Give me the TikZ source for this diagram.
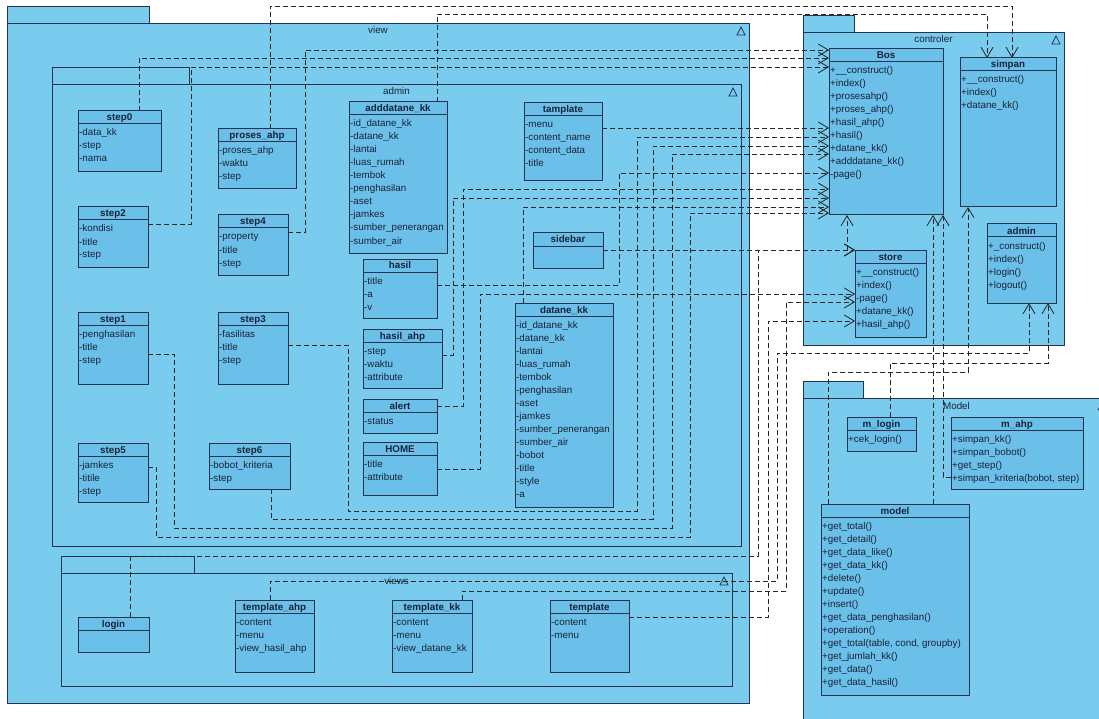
\documentclass[tikz,border=0pt]{standalone}
\usepackage{fontspec}
\setmainfont{Liberation Sans}
\usepackage{tikz}
\usetikzlibrary{arrows.meta, positioning, calc}
\definecolor{pkgblue}{RGB}{121,204,238}
\definecolor{clsblue}{RGB}{106,192,233}
\definecolor{umlline}{RGB}{38,50,80}
\definecolor{umltext}{RGB}{26,34,56}

% package: id, tab corner, tab width, body width, body height, label
\newcommand{\umlpkg}[6]{%
  \node[pkgbox, minimum width=#3pt, minimum height=17pt] (#1-tab) at (#2) {};
  \node[pkgbox, minimum width=#4pt, minimum height=#5pt] (#1) at (#1-tab.south west) {};
  \node[pkgname] (#1-name) at ([yshift=-11pt]#1.north) {#6};
  \draw[pkgmark] ([xshift=-8pt,yshift=-4pt]#1.north east) -- ++(4pt,-8pt) -- ++(-8pt,0pt) -- cycle;
}
% class: id, corner, width, height, name, rows
\newcommand{\umlclass}[6]{%
  \node[clsbox, minimum width=#3pt, minimum height=#4pt] (#1) at (#2) {};
  \node[clsname] (#1-name) at ([yshift=-10pt]#1.north) {#5};
  \draw[clsline] ([yshift=-13pt]#1.north west) -- ([yshift=-13pt]#1.north east);
  \foreach \rowtxt [count=\i] in {#6}
    \node[clsrow] (#1-\i) at ([xshift=1pt, yshift={-12pt-13pt*\i}]#1.north west) {\rowtxt};
}

\begin{document}
\begin{tikzpicture}[x=1pt, y=-1pt,
    font=\fontsize{9.8}{13}\selectfont,
    pkgbox/.style={rectangle, draw=umlline, fill=pkgblue, line width=0.9pt,
                   inner sep=0pt, outer sep=0pt, anchor=north west},
    pkgname/.style={anchor=base, inner sep=0pt, text=umltext},
    pkgmark/.style={draw=umlline, line width=0.7pt},
    clsbox/.style={rectangle, draw=umlline, fill=clsblue, line width=1pt,
                   inner sep=0pt, outer sep=0pt, anchor=north west},
    clsline/.style={draw=umlline, line width=1pt},
    clsname/.style={anchor=base, inner sep=0pt, text=umltext,
                    font=\fontsize{9.8}{13}\selectfont\bfseries},
    clsrow/.style={anchor=base west, inner sep=0pt, text=umltext},
    dep/.style={draw=black!85, line width=0.7pt, dash pattern=on 5pt off 3pt,
                -{Straight Barb[length=10pt, width=12pt, line width=0.8pt]}}
  ]
  \useasboundingbox (0,0) rectangle (1099,719);

  % packages
  \umlpkg{view}{7,6}{142}{742}{680}{view}
  \umlpkg{admin}{52,67}{137}{689}{462}{admin}
  \umlpkg{views}{61,556}{133}{671}{113}{views}
  \umlpkg{ctrl}{803,15}{51}{261}{313}{controler}
  \umlpkg{mdl}{803,381}{60}{307}{340}{Model}

  % view / admin
  \umlclass{step0}{78,111}{83}{61}{step0}{-data\_kk, -step, -nama}
  \umlclass{proses}{218,129}{78}{60}{proses\_ahp}{-proses\_ahp, -waktu, -step}
  \umlclass{step2}{78,207}{70}{60}{step2}{-kondisi, -title, -step}
  \umlclass{step4}{218,215}{70}{60}{step4}{-property, -title, -step}
  \umlclass{addkk}{349,102}{98}{151}{adddatane\_kk}{-id\_datane\_kk, -datane\_kk, -lantai,
    -luas\_rumah, -tembok, -penghasilan, -aset, -jamkes, -sumber\_penerangan, -sumber\_air}
  \umlclass{tamplate}{524,103}{78}{78}{tamplate}{-menu, -content\_name, -content\_data, -title}
  \umlclass{sidebar}{533,233}{70}{35}{sidebar}{}
  \umlclass{hasil}{363,259}{74}{59}{hasil}{-title, -a, -v}
  \umlclass{hasilahp}{363,329}{79}{59}{hasil\_ahp}{-step, -waktu, -attribute}
  \umlclass{alert}{363,399}{74}{34}{alert}{-status}
  \umlclass{home}{363,442}{74}{53}{HOME}{-title, -attribute}
  \umlclass{datanekk}{515,303}{98}{204}{datane\_kk}{-id\_datane\_kk, -datane\_kk, -lantai,
    -luas\_rumah, -tembok, -penghasilan, -aset, -jamkes, -sumber\_penerangan, -sumber\_air,
    -bobot, -title, -style, -a}
  \umlclass{step1}{78,312}{70}{72}{step1}{-penghasilan, -title, -step}
  \umlclass{step3}{218,312}{70}{72}{step3}{-fasilitas, -title, -step}
  \umlclass{step5}{78,443}{70}{59}{step5}{-jamkes, -titile, -step}
  \umlclass{step6}{209,443}{81}{46}{step6}{-bobot\_kriteria, -step}

  % views
  \umlclass{login}{78,617}{71}{35}{login}{}
  \umlclass{tahp}{235,600}{79}{72}{template\_ahp}{-content, -menu, -view\_hasil\_ahp}
  \umlclass{tkk}{392,600}{80}{72}{template\_kk}{-content, -menu, -view\_datane\_kk}
  \umlclass{template}{550,600}{79}{72}{template}{-content, -menu}

  % controler
  \umlclass{bos}{829,49}{114}{166}{Bos}{+\_\_construct(), +index(), +prosesahp(), +proses\_ahp(),
    +hasil\_ahp(), +hasil(), +datane\_kk(), +adddatane\_kk(), -page()}
  \umlclass{simpan}{960,58}{96}{149}{simpan}{+\_\_construct(), +index(), +datane\_kk()}
  \umlclass{store}{855,250}{71}{87}{store}{+\_\_construct(), +index(), -page(), +datane\_kk(), +hasil\_ahp()}
  \umlclass{cadmin}{987,224}{69}{79}{admin}{+\_construct(), +index(), +login(), +logout()}

  % model
  \umlclass{mlogin}{847,417}{69}{34}{m\_login}{+cek\_login()}
  \umlclass{mahp}{951,417}{132}{72}{m\_ahp}{+simpan\_kk(), +simpan\_bobot(), +get\_step(),
    {+simpan\_kriteria(bobot, step)}}
  \umlclass{model}{821,504}{148}{191}{model}{+get\_total(), +get\_detail(), +get\_data\_like(),
    +get\_data\_kk(), +delete(), +update(), +insert(), +get\_data\_penghasilan(), +operation(),
    {+get\_total(table, cond, groupby)}, +get\_jumlah\_kk(), +get\_data(), +get\_data\_hasil()}

  % view -> controler
  \draw[dep] (proses.north -| 270,0) -- (270,6) -- (1012,6) -- (simpan.north -| 1012,0);
  \draw[dep] (addkk.north -| 437,0) -- (437,14) -- (987,14) -- (simpan.north -| 987,0);
  \draw[dep] (step4.east |- 0,232) -- (305,232) -- (305,50) -- (bos.west |- 0,50);
  \draw[dep] (step0.north -| 139,0) -- (139,58) -- (bos.west |- 0,58);
  \draw[dep] (step2.east |- 0,224) -- (191,224) -- (191,67) -- (bos.west |- 0,67);
  \draw[dep] (tamplate.east |- 0,128) -- (bos.west |- 0,128);
  \draw[dep] (step3.east |- 0,345) -- (348,345) -- (348,511) -- (637,511) -- (637,137) -- (bos.west |- 0,137);
  \draw[dep] (step6.south -| 271,0) -- (271,519) -- (653,519) -- (653,146) -- (bos.west |- 0,146);
  \draw[dep] (step1.east |- 0,354) -- (174,354) -- (174,528) -- (672,528) -- (672,154) -- (bos.west |- 0,154);
  \draw[dep] (step5.east |- 0,467) -- (156,467) -- (156,537) -- (690,537) -- (690,213) -- (bos.west |- 0,213);
  \draw[dep] (hasil.east |- 0,285) -- (619,285) -- (619,173) -- (bos.west |- 0,173);
  \draw[dep] (alert.east |- 0,406) -- (463,406) -- (463,189) -- (bos.west |- 0,189);
  \draw[dep] (hasilahp.east |- 0,355) -- (453,355) -- (453,198) -- (bos.west |- 0,198);
  \draw[dep] (datanekk.north -| 523,0) -- (523,207) -- (bos.west |- 0,207);
  \draw[dep] (home.east |- 0,469) -- (480,469) -- (480,294) -- (store.west |- 0,294);
  \draw[dep] (sidebar.east |- 0,250) -- (store.north west);
  \draw[dep] (login.north -| 130,0) -- (130,556) -- (758,556) -- (758,250) -- (store.north west);
  \draw[dep] (template.east |- 0,617) -- (768,617) -- (768,321) -- (store.west |- 0,321);
  \draw[dep] (tkk.north -| 462,0) -- (462,591) -- (786,591) -- (786,302) -- (store.west |- 0,302);
  \draw[dep] (tahp.north -| 270,0) -- (270,581) -- (777,581) -- (777,353) -- (1029,353) -- (cadmin.south -| 1029,0);

  % controler / model
  \draw[dep] (store.north -| 847,0) -- (bos.south -| 847,0);
  \draw[dep] (model.north -| 933,0) -- (bos.south -| 933,0);
  \draw[dep] (mahp.west |- 0,477) -- (943,477) -- (bos.south -| 943,0);
  \draw[dep] (model.north -| 828,0) -- (828,372) -- (968,372) -- (simpan.south -| 968,0);
  \draw[dep] (mlogin.north -| 890,0) -- (890,363) -- (1048,363) -- (cadmin.south -| 1048,0);
\end{tikzpicture}
\end{document}
